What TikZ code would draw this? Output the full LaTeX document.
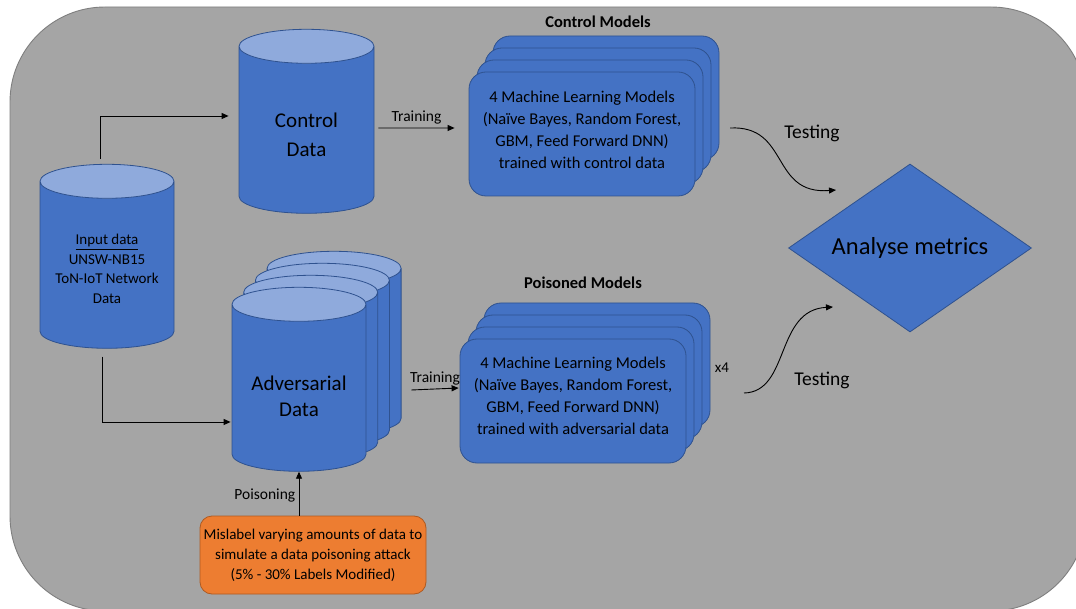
\documentclass[tikz,border=0pt]{standalone}
\usepackage{fontspec}
\setmainfont{Carlito}
\usetikzlibrary{shapes.geometric,arrows.meta}

\definecolor{cylBody}{HTML}{4472C4}
\definecolor{cylTop}{HTML}{8FAADC}
\definecolor{edgeBlue}{HTML}{2F528F}
\definecolor{bgGray}{HTML}{A5A5A5}
\definecolor{bgEdge}{HTML}{7F7F7F}
\definecolor{poisonFill}{HTML}{ED7D31}
\definecolor{poisonEdge}{HTML}{AE5A21}

\begin{document}
\begin{tikzpicture}[x=1pt,y=-1pt,>={Triangle[length=7pt,width=6pt]},line width=0.9pt,
	cyl/.style={cylinder,shape border rotate=90,aspect=0.425,draw=edgeBlue,line width=0.8pt,
		cylinder uses custom fill,cylinder body fill=cylBody,cylinder end fill=cylTop,
		text width=80pt,text height=80pt,text depth=0pt,
		minimum width=134pt,minimum height=184pt,inner sep=0pt},
	cyltext/.style={align=center,inner sep=0pt},
	mlbox/.style={draw=edgeBlue,fill=cylBody,line width=0.8pt,rounded corners=17pt,
		minimum width=226pt,minimum height=124pt,align=center,
		font=\fontsize{16.5}{22}\selectfont},
	title/.style={font=\bfseries\fontsize{16.5}{19}\selectfont},
	lbl/.style={font=\fontsize{15.5}{18}\selectfont}]
	\useasboundingbox (0,0) rectangle (1076,609);
	\draw[fill=bgGray,draw=bgEdge,rounded corners=95pt] (10,7) rectangle (1086,611);

	\node[cyl] (in) at (107,265) {};
	\node[cyltext,font=\fontsize{15}{19.5}\selectfont] (intxt) at ([yshift=-4pt]in.center) {\underline{Input data}\\UNSW-NB15\\ToN-IoT Network\\Data};
	\node[cyl,minimum width=135pt] (ctrl) at (306.5,130) {};
	\node[cyltext,font=\fontsize{21}{29}\selectfont] (ctrltxt) at ([yshift=-5pt]ctrl.center) {Control\\Data};
	\foreach \i in {3,2,1}
		\node[cyl] (adv\i) at ({299+11.7*\i},{388-12*\i}) {};
	\node[cyl] (adv) at (299,388) {};
	\node[cyltext,font=\fontsize{21}{26}\selectfont] (advtxt) at ([yshift=-8pt]adv.center) {Adversarial\\Data};

	\node[title] (cmtitle) at (598,22) {Control Models};
	\foreach \i in {3,2,1}
		\node[mlbox] (cm\i) at ({582+8*\i},{134-12*\i}) {};
	\node[mlbox] (cm) at (582,134) {4 Machine Learning Models\\(Naïve Bayes, Random Forest,\\GBM, Feed Forward DNN)\\trained with control data\\[-14pt]};

	\node[title] (pmtitle) at (583,283) {Poisoned Models};
	\foreach \i in {3,2,1}
		\node[mlbox] (pm\i) at ({573+8*\i},{401-12*\i}) {};
	\node[mlbox] (pm) at (573,401) {4 Machine Learning Models\\(Naïve Bayes, Random Forest,\\GBM, Feed Forward DNN)\\trained with adversarial data\\[-12pt]};
	\node[font=\fontsize{15}{17}\selectfont] (times) at (722,368) {x4};

	\node[diamond,aspect=1.45,fill=cylBody,draw=edgeBlue,line width=0.8pt,minimum width=243pt,minimum height=168pt,inner sep=0pt,
		font=\fontsize{24.5}{28}\selectfont] (metric) at (910,248) {Analyse metrics};

	\node[draw=poisonEdge,fill=poisonFill,line width=0.8pt,rounded corners=12pt,minimum width=226pt,minimum height=78pt,align=center,
		inner sep=0pt,font=\fontsize{15}{20}\selectfont] (poison) at (313,555) {Mislabel varying amounts of data to\\simulate a data poisoning attack\\(5\% - 30\% Labels Modified)};

	% data flow
	\draw[->] ([shift={(-7,-5)}]in.north) |- ([shift={(-10,-14)}]ctrl.west);
	\draw[->] ([shift={(-5,8)}]in.south) |- ([shift={(-1,34)}]adv.west);
	\draw[->] (adv.south |- poison.north) -- node[lbl,left,pos=0.45] {Poisoning} (adv.south);
	\draw[->] ([shift={(4,-2)}]ctrl.east) -- node[lbl,above] {Training} ([shift={(-14,-6)}]cm.west);
	\draw[->] ([shift={(45,2)}]adv.east) -- node[lbl,above] {Training} ([shift={(-1,-13)}]pm.west);

	% testing
	\coordinate (ctest) at (730,128);
	\coordinate (cend) at (836,190);
	\coordinate (ptest) at (744,393);
	\coordinate (pend) at (833,307);
	\draw[->] (ctest) .. controls (790,125) and (770,195) .. (cend);
	\draw[->] (ptest) .. controls (790,392) and (775,310) .. (pend);
	\node[font=\fontsize{19.5}{22}\selectfont] (ctestlbl) at (812,133) {Testing};
	\node[font=\fontsize{19.5}{22}\selectfont] (ptestlbl) at (822,380) {Testing};
\end{tikzpicture}
\end{document}
